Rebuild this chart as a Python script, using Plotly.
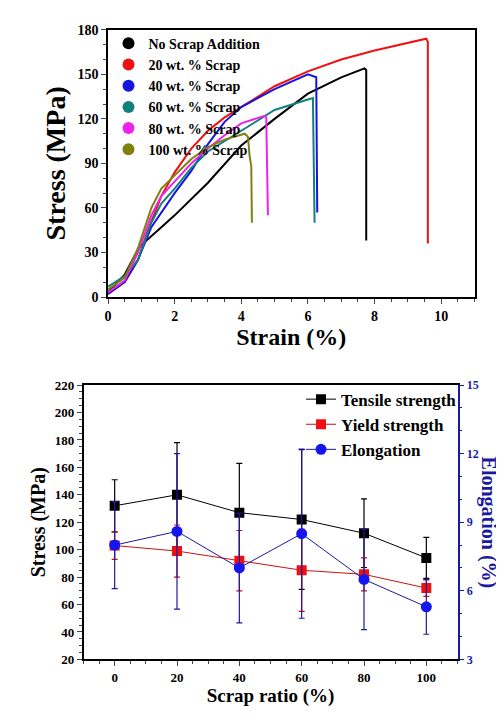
import plotly.graph_objects as go

names = ["No Scrap Addition", "20 wt. % Scrap", "40 wt. % Scrap", "60 wt. % Scrap", "80 wt. % Scrap", "100 wt. % Scrap"]
colors = ["black", "#ee1111", "#1515e0", "#138080", "#ee22ee", "#808010"]
strain = [
    [0, 0.5, 0.8, 1.0, 1.5, 2, 3, 4, 5, 6, 7, 7.7, 7.75, 7.75],
    [0, 0.5, 0.9, 1.2, 1.6, 2, 2.5, 3, 3.5, 4, 5, 6, 7, 8, 9, 9.55, 9.6, 9.6],
    [0, 0.5, 0.9, 1.3, 2, 2.5, 3, 3.5, 4, 5, 6, 6.25, 6.28],
    [0, 0.5, 0.9, 1.3, 1.6, 2, 2.5, 3, 4, 5, 6, 6.15, 6.2],
    [0, 0.5, 0.9, 1.3, 1.6, 2, 2.5, 3, 3.5, 4, 4.7, 4.75, 4.8],
    [0, 0.5, 0.9, 1.3, 1.6, 2, 2.5, 3, 3.5, 4.1, 4.2, 4.25, 4.3, 4.32],
]
stress = [
    [3, 15, 28, 35, 45, 55, 77, 102, 120, 137, 148, 154, 153, 38],
    [2, 10, 25, 45, 68, 84, 100, 112, 121, 128, 142, 152, 160, 166, 171, 174, 172, 36],
    [2, 10, 25, 47, 70, 85, 103, 118, 128, 140, 150, 148, 57],
    [7, 14, 25, 50, 63, 73, 87, 98, 112, 126, 133, 134, 50],
    [3, 11, 30, 55, 68, 78, 90, 100, 109, 117, 122, 121, 55],
    [5, 13, 33, 60, 73, 82, 93, 101, 106, 110, 108, 95, 88, 50],
]

scrap = [0, 20, 40, 60, 80, 100]
tensile = [132, 140, 127, 122, 112, 94]
tensile_err = [19, 38, 36, 51, 25, 15]
yield_s = [103, 99, 92, 85, 82, 72]
yield_err = [10, 19, 22, 30, 12, 6]
elong = [8.0, 8.6, 7.0, 8.5, 6.5, 5.3]
elong_err = [1.9, 3.4, 2.4, 3.7, 2.2, 1.2]

F = "Liberation Serif"
BL = "#1a1aa0"
fig = go.Figure()
for n, c, xs, ys in zip(names, colors, strain, stress):
    fig.add_trace(go.Scatter(x=xs, y=ys, mode="lines", name=n, line=dict(color=c, width=2),
                             xaxis="x", yaxis="y", showlegend=False))
    fig.add_trace(go.Scatter(x=[None], y=[None], mode="markers", name="<b>" + n + "</b>",
                             marker=dict(color=c, size=13), xaxis="x", yaxis="y", legend="legend"))
fig.add_trace(go.Scatter(x=scrap, y=tensile, name="<b>Tensile strength</b>", mode="lines+markers",
                         line=dict(color="black", width=1), marker=dict(symbol="square", size=10, color="black"),
                         error_y=dict(array=tensile_err, color="black", width=3, thickness=1.2),
                         xaxis="x2", yaxis="y2", legend="legend2"))
fig.add_trace(go.Scatter(x=scrap, y=yield_s, name="<b>Yield strength</b>", mode="lines+markers",
                         line=dict(color="#cc1111", width=1), marker=dict(symbol="square", size=10, color="#ee1111"),
                         error_y=dict(array=yield_err, color="#cc1111", width=3, thickness=1.2),
                         xaxis="x2", yaxis="y2", legend="legend2"))
fig.add_trace(go.Scatter(x=scrap, y=elong, name="<b>Elongation</b>", mode="lines+markers",
                         line=dict(color=BL, width=1), marker=dict(symbol="circle", size=11, color="#1515f0"),
                         error_y=dict(array=elong_err, color=BL, width=3, thickness=1.2),
                         xaxis="x2", yaxis="y3", legend="legend2"))

tf = dict(family=F, size=14, color="black", weight="bold")
ax = dict(showline=True, linecolor="black", linewidth=1.5, mirror=True, ticks="outside", ticklen=5,
          showgrid=False, zeroline=False, tickfont=tf,
          minor=dict(ticks="outside", ticklen=3))
fig.update_layout(
    width=504, height=720, margin=dict(l=0, r=0, t=0, b=0), plot_bgcolor="white", paper_bgcolor="white",
    font=dict(family=F, color="black"),
    xaxis=dict(ax, domain=[0.192, 0.925], range=[0, 11], dtick=2, anchor="y",
               title=dict(text="<b>Strain (%)</b>", font=dict(size=24), standoff=0)),
    yaxis=dict(ax, domain=[0.6, 0.979], range=[0, 180], dtick=30, anchor="x",
               title=dict(text="<b>Stress (MPa)</b>", font=dict(size=28), standoff=4)),
    xaxis2=dict(ax, domain=[0.143, 0.891], range=[-10, 110], dtick=20, anchor="y2",
                tickfont=dict(tf, size=13),
                title=dict(text="<b>Scrap ratio (%)</b>", font=dict(size=19), standoff=4)),
    yaxis2=dict(ax, domain=[0.086, 0.475], range=[20, 220], dtick=20, anchor="x2", mirror=False,
                tickfont=dict(tf, size=13),
                title=dict(text="<b>Stress (MPa)</b>", font=dict(size=20), standoff=4)),
    yaxis3=dict(ax, overlaying="y2", side="right", range=[3, 15], dtick=3, anchor="x2", mirror=False,
                linecolor=BL, tickcolor=BL, tickfont=dict(tf, size=12, color=BL),
                minor=dict(ticks="outside", ticklen=3, tickcolor=BL)),
    legend=dict(x=0.193, y=0.982, xanchor="left", yanchor="top", bgcolor="rgba(0,0,0,0)",
                font=dict(family=F, size=14, color="black"), tracegroupgap=0, itemwidth=30,
                itemsizing="constant"),
    legend2=dict(x=0.9, y=0.48, xanchor="right", yanchor="top", bgcolor="rgba(0,0,0,0)",
                 font=dict(family=F, size=17, color="black")),
    annotations=[dict(text="<b>Elongation (%)</b>", xref="paper", yref="paper", x=0.952, y=0.28,
                      xanchor="center", yanchor="middle",
                      textangle=90, showarrow=False, font=dict(family=F, size=20, color=BL))],
)
fig.write_html("out.html")
